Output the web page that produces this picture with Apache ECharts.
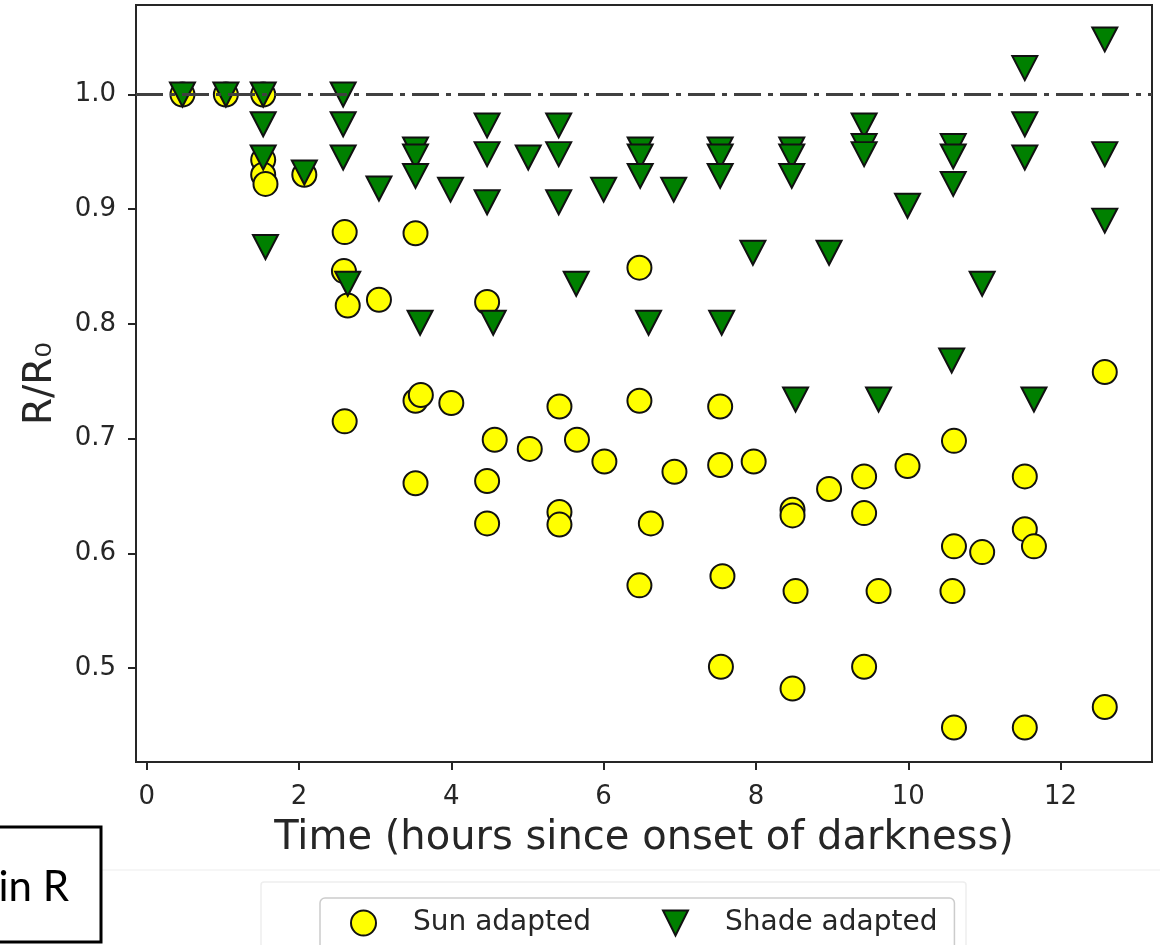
<!DOCTYPE html>
<html><head><meta charset="utf-8">
<script src="https://cdn.jsdelivr.net/npm/echarts@6/dist/echarts.min.js"></script>
<style>html,body{margin:0;padding:0;background:#fff}#chart{width:1160px;height:945px}</style>
</head><body><div id="chart"></div>
<script>
// ---- data ----
const xTicks = [0, 2, 4, 6, 8, 10, 12];
const yTicks = [0.5, 0.6, 0.7, 0.8, 0.9, 1.0];
const seriesNames = ['Sun adapted', 'Shade adapted'];
const xTitle = 'Time (hours since onset of darkness)';
const yTitle = 'R/R\u2080';
const referenceLevel = 1.0;
const sideNote = 'in R';

const sunTime = [0.47, 1.04, 1.53, 1.53, 1.53, 1.56, 2.07, 2.60, 2.59, 2.64, 3.05, 2.60,
  3.53, 3.53, 3.60, 4.00, 3.53, 4.47, 4.57, 4.47, 4.47, 5.03, 5.42, 5.42, 5.42, 5.65,
  6.01, 6.47, 6.47, 6.62, 6.47, 6.93, 7.53, 7.53, 7.97, 7.56, 7.54, 8.48, 8.48, 8.52,
  8.48, 8.96, 9.42, 9.42, 9.61, 9.42, 9.99, 10.60, 10.60, 10.58, 10.97, 11.53, 11.53,
  11.65, 12.58, 10.60, 11.53, 12.58];
const sunRatio = [1.000, 1.000, 1.000, 0.943, 0.930, 0.922, 0.930, 0.880, 0.846, 0.816, 0.821, 0.715,
  0.879, 0.733, 0.738, 0.731, 0.661, 0.819, 0.699, 0.663, 0.626, 0.691, 0.728, 0.636, 0.625, 0.699,
  0.680, 0.849, 0.733, 0.626, 0.572, 0.671, 0.728, 0.677, 0.680, 0.580, 0.501, 0.638, 0.633, 0.567,
  0.482, 0.656, 0.667, 0.635, 0.567, 0.501, 0.676, 0.698, 0.606, 0.567, 0.601, 0.667, 0.621,
  0.606, 0.758, 0.448, 0.448, 0.466];

const shadeTime = [0.47, 1.04, 1.53, 1.53, 1.53, 1.56, 2.07, 2.58, 2.58, 2.58, 2.64, 3.05,
  3.53, 3.53, 3.53, 3.59, 3.99, 4.47, 4.47, 4.47, 4.55, 5.01, 5.41, 5.41, 5.41, 5.64,
  6.00, 6.48, 6.48, 6.48, 6.59, 6.92, 7.53, 7.53, 7.53, 7.55, 7.96, 8.47, 8.47, 8.47,
  8.52, 8.96, 9.42, 9.42, 9.42, 9.61, 9.99, 10.59, 10.59, 10.59, 10.57, 10.97, 11.53,
  11.53, 11.53, 11.65, 12.58, 12.58, 12.58];
const shadeRatio = [1.000, 1.000, 1.000, 0.974, 0.945, 0.867, 0.932, 1.000, 0.974, 0.945, 0.835, 0.918,
  0.952, 0.946, 0.929, 0.801, 0.917, 0.973, 0.948, 0.906, 0.801, 0.945, 0.973, 0.948, 0.906, 0.835,
  0.917, 0.952, 0.946, 0.929, 0.801, 0.917, 0.952, 0.946, 0.929, 0.801, 0.862, 0.952, 0.946, 0.929,
  0.734, 0.862, 0.973, 0.955, 0.948, 0.734, 0.903, 0.955, 0.946, 0.922, 0.768, 0.835, 1.023,
  0.974, 0.945, 0.734, 1.048, 0.948, 0.890];

// ---- chart ----
const chart = echarts.init(document.getElementById('chart'), null, {renderer: 'canvas'});
const zip = (a, b) => a.map((v, i) => [v, b[i]]);
const tri = 'path://M0,0L20,0L10,20Z';
const font = 'DejaVu Sans';
const ink = '#262626';

const option = {
  animation: false,
  backgroundColor: '#ffffff',
  grid: {left: 136, top: 5, right: 8, bottom: 183, show: true, borderColor: ink, borderWidth: 2,
    backgroundColor: 'transparent', outerBoundsMode: 'none', containLabel: false},
  xAxis: {
    type: 'value', min: -0.14, max: 13.2,
    name: xTitle, nameLocation: 'middle', nameGap: 57,
    nameTextStyle: {fontFamily: font, fontSize: 40, color: ink},
    axisLine: {show: true, onZero: false, lineStyle: {color: ink, width: 2}},
    axisTick: {show: true, inside: false, length: 8, lineStyle: {color: ink, width: 2}, customValues: xTicks},
    axisLabel: {show: true, customValues: xTicks, margin: 22, fontFamily: font, fontSize: 26, color: ink,
      formatter: v => String(v)},
    splitLine: {show: false}
  },
  yAxis: {
    type: 'value', min: 0.418, max: 1.078,
    name: yTitle, nameLocation: 'middle', nameGap: 76,
    nameTextStyle: {fontFamily: font, fontSize: 39, color: ink},
    axisLine: {show: true, onZero: false, lineStyle: {color: ink, width: 2}},
    axisTick: {show: true, inside: false, length: 8, lineStyle: {color: ink, width: 2}, customValues: yTicks},
    axisLabel: {show: true, customValues: yTicks, margin: 20, fontFamily: font, fontSize: 26, color: ink,
      formatter: v => Number(v).toFixed(1)},
    splitLine: {show: false}
  },
  legend: {
    show: true, orient: 'horizontal', left: 320, top: 898,
    padding: [11, 17, 30, 30], itemGap: 71, itemWidth: 25, itemHeight: 25,
    borderColor: '#cccccc', borderWidth: 1.5, borderRadius: 5, backgroundColor: '#ffffff',
    textStyle: {fontFamily: font, fontSize: 28, color: ink, lineHeight: 28, padding: [0, 0, 0, 32]},
    itemStyle: {borderColor: '#111111', borderWidth: 2},
    data: [{name: seriesNames[0], icon: 'circle'}, {name: seriesNames[1], icon: tri}]
  },
  graphic: [
    {type: 'line', z: -10, silent: true, shape: {x1: 100, y1: 870, x2: 1160, y2: 870},
      style: {stroke: '#f3f3f3', lineWidth: 1.5}},
    {type: 'rect', z: -10, silent: true, shape: {x: 261, y: 882, width: 705, height: 80, r: 3},
      style: {fill: 'none', stroke: '#eeeeee', lineWidth: 1.5}},
    {type: 'rect', silent: true, shape: {x: -3, y: 827, width: 104, height: 115},
      style: {fill: '#ffffff', stroke: '#000000', lineWidth: 3}},
    {type: 'text', silent: true, x: 69, y: 887,
      style: {text: sideNote, fontFamily: 'Lato', fontSize: 42, fill: '#000000', align: 'right', verticalAlign: 'middle'}}
  ],
  series: [
    {
      name: seriesNames[0], type: 'scatter', symbol: 'circle', symbolSize: 24,
      itemStyle: {color: '#ffff00', borderColor: '#111111', borderWidth: 2, opacity: 1},
      data: zip(sunTime, sunRatio), z: 2
    },
    {
      name: seriesNames[1], type: 'scatter', symbol: tri, symbolSize: [25, 24],
      itemStyle: {color: '#008000', borderColor: '#111111', borderWidth: 2, opacity: 1},
      data: zip(shadeTime, shadeRatio), z: 3
    },
    {
      name: 'reference', type: 'scatter', data: [], z: 4, silent: true,
      markLine: {
        silent: true, symbol: ['none', 'none'], label: {show: false},
        lineStyle: {color: '#404040', width: 3, type: [27, 7, 5, 7], opacity: 1},
        emphasis: {disabled: true},
        data: [{yAxis: referenceLevel}]
      }
    }
  ]
};
chart.setOption(option);
</script>
</body></html>
